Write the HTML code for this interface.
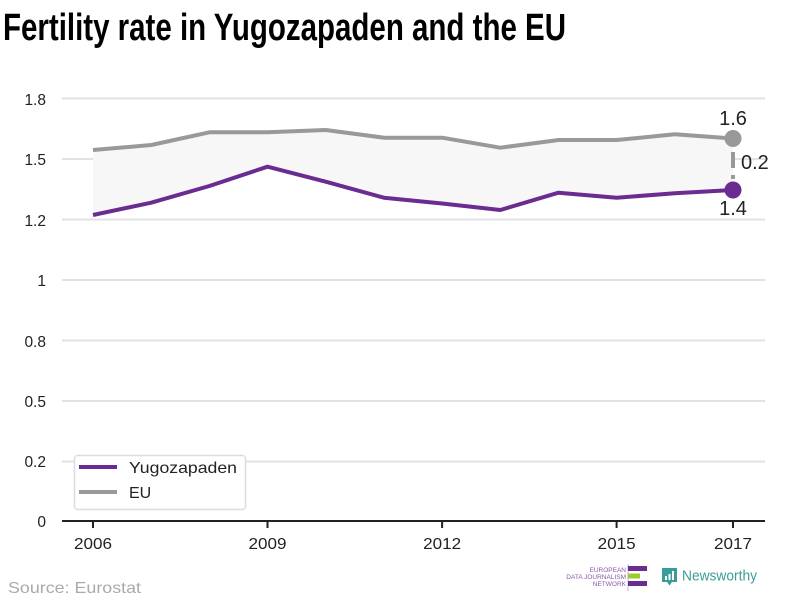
<!DOCTYPE html>
<html><head><meta charset="utf-8"><style>
html,body{margin:0;padding:0;background:#fff;}
svg{display:block;font-family:"Liberation Sans","DejaVu Sans",sans-serif;}
</style></head><body>
<svg width="800" height="600" viewBox="0 0 800 600" xmlns="http://www.w3.org/2000/svg">
<rect width="800" height="600" fill="#fff"/>
<text x="3" y="40" font-size="38" font-weight="bold" fill="#000" textLength="563" lengthAdjust="spacingAndGlyphs">Fertility rate in Yugozapaden and the EU</text>

<!-- grid -->
<g stroke="#e2e2e2" stroke-width="2">
<line x1="62" x2="765" y1="98.5" y2="98.5"/>
<line x1="62" x2="765" y1="159" y2="159"/>
<line x1="62" x2="765" y1="219.5" y2="219.5"/>
<line x1="62" x2="765" y1="280" y2="280"/>
<line x1="62" x2="765" y1="340.5" y2="340.5"/>
<line x1="62" x2="765" y1="401" y2="401"/>
<line x1="62" x2="765" y1="461.5" y2="461.5"/>
</g>
<g font-size="15.5" fill="#222" text-anchor="end">
<text x="46" y="105">1.8</text>
<text x="46" y="165">1.5</text>
<text x="46" y="226">1.2</text>
<text x="46" y="286">1</text>
<text x="46" y="347">0.8</text>
<text x="46" y="407">0.5</text>
<text x="46" y="467">0.2</text>
<text x="46" y="527">0</text>
</g>

<!-- fill between -->
<polygon fill="#f7f7f7" points="93,150 151.2,145 209.4,132.3 267.5,132.3 325.7,130 383.9,137.7 442.1,137.7 500.3,147.7 558.5,140 616.6,140 674.8,134.3 733,138.5 733,190 674.8,193.3 616.6,197.7 558.5,192.7 500.3,210 442.1,203.5 383.9,197.7 325.7,181.7 267.5,166.7 209.4,186 151.2,202.7 93,215"/>

<polyline fill="none" stroke="#999" stroke-width="4" stroke-linejoin="round" points="93,150 151.2,145 209.4,132.3 267.5,132.3 325.7,130 383.9,137.7 442.1,137.7 500.3,147.7 558.5,140 616.6,140 674.8,134.3 733,138.5"/>
<polyline fill="none" stroke="#6a2c91" stroke-width="4" stroke-linejoin="round" points="93,215 151.2,202.7 209.4,186 267.5,166.7 325.7,181.7 383.9,197.7 442.1,203.5 500.3,210 558.5,192.7 616.6,197.7 674.8,193.3 733,190"/>

<!-- annotation -->
<line x1="733" x2="733" y1="152" y2="179" stroke="#999" stroke-width="4" stroke-dasharray="16,7"/>
<circle cx="733" cy="138.5" r="8.5" fill="#999"/>
<circle cx="733" cy="190" r="8.5" fill="#6a2c91"/>
<g font-size="20" fill="#222">
<text x="733" y="125" text-anchor="middle">1.6</text>
<text x="741" y="169">0.2</text>
<text x="733" y="215" text-anchor="middle">1.4</text>
</g>

<!-- x axis -->
<line x1="62" x2="765" y1="521" y2="521" stroke="#222" stroke-width="2"/>
<g stroke="#222" stroke-width="2">
<line x1="93" x2="93" y1="521" y2="528"/>
<line x1="267.5" x2="267.5" y1="521" y2="528"/>
<line x1="442.1" x2="442.1" y1="521" y2="528"/>
<line x1="616.6" x2="616.6" y1="521" y2="528"/>
<line x1="733" x2="733" y1="521" y2="528"/>
</g>
<g font-size="16" fill="#222" text-anchor="middle">
<text x="93" y="549" textLength="38" lengthAdjust="spacingAndGlyphs">2006</text>
<text x="267.5" y="549" textLength="38" lengthAdjust="spacingAndGlyphs">2009</text>
<text x="442.1" y="549" textLength="38" lengthAdjust="spacingAndGlyphs">2012</text>
<text x="616.6" y="549" textLength="38" lengthAdjust="spacingAndGlyphs">2015</text>
<text x="733" y="549" textLength="38" lengthAdjust="spacingAndGlyphs">2017</text>
</g>

<!-- legend -->
<rect x="74.5" y="455.5" width="171" height="54" rx="3" fill="#fff" stroke="#ddd" stroke-width="1.5"/>
<line x1="79" x2="117" y1="467" y2="467" stroke="#6a2c91" stroke-width="4"/>
<line x1="79" x2="117" y1="492" y2="492" stroke="#999" stroke-width="4"/>
<g font-size="16" fill="#222">
<text x="129" y="473" textLength="108" lengthAdjust="spacingAndGlyphs">Yugozapaden</text>
<text x="129" y="498">EU</text>
</g>

<!-- footer -->
<text x="8" y="593" font-size="16" fill="#aaa" textLength="133" lengthAdjust="spacingAndGlyphs">Source: Eurostat</text>
<g font-size="6.5" fill="#8a5aa8" text-anchor="end">
<text x="626" y="572">EUROPEAN</text>
<text x="626" y="579">DATA JOURNALISM</text>
<text x="626" y="586">NETWORK</text>
</g>
<line x1="628" x2="628" y1="564" y2="591" stroke="#c9b0d9" stroke-width="1"/>
<rect x="628" y="566" width="19" height="5" fill="#6a2c91"/>
<rect x="628" y="573.5" width="12" height="5" fill="#9ccc2a"/>
<rect x="628" y="581" width="19" height="5" fill="#6a2c91"/>
<path d="M662,568 h15 v14 h-5 l-2.5,3.5 l-2.5,-3.5 h-5 z" fill="#3a9c98"/>
<g fill="#fff">
<rect x="665" y="576" width="2" height="4"/>
<rect x="668.5" y="574" width="2" height="6"/>
<rect x="672" y="571" width="2" height="9"/>
</g>
<text x="682" y="580.5" font-size="15" fill="#3a9c98" textLength="75" lengthAdjust="spacingAndGlyphs">Newsworthy</text>
</svg>
</body></html>
